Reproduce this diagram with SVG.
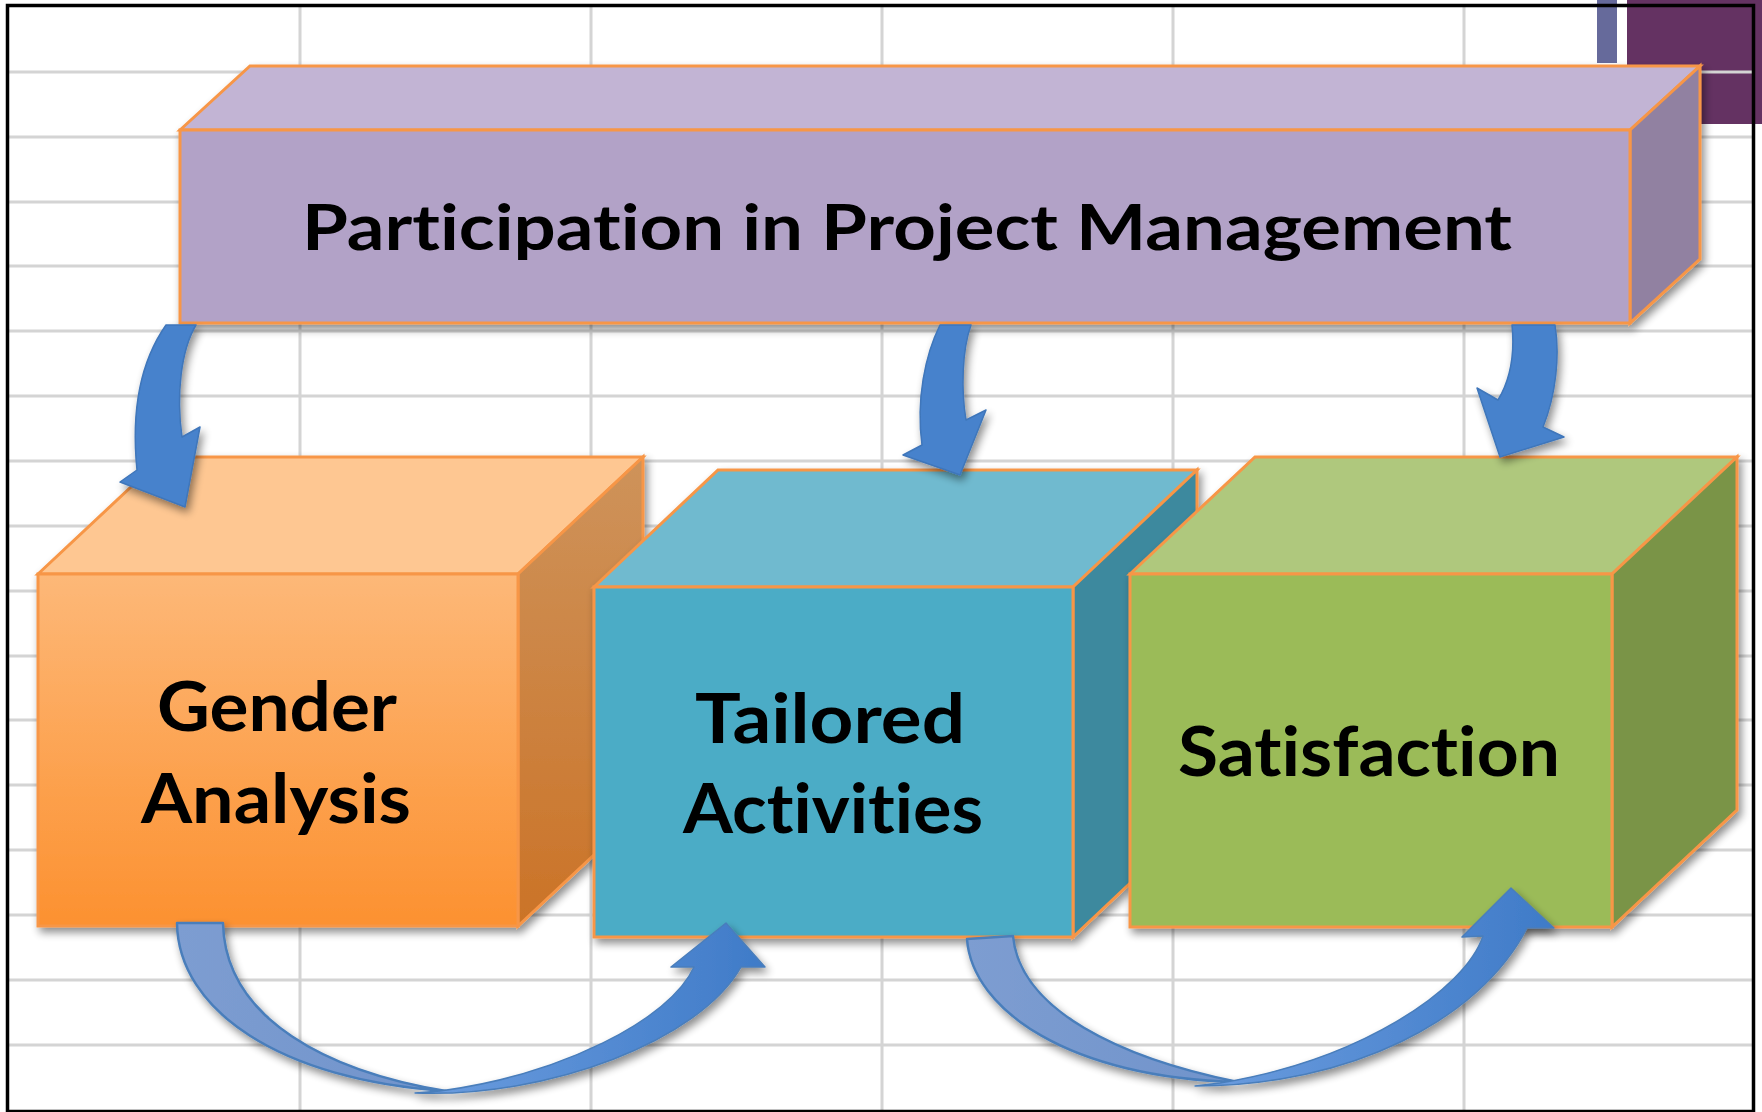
<svg xmlns="http://www.w3.org/2000/svg" width="1762" height="1112" viewBox="0 0 1762 1112">
  <style>
    .edge { stroke: #F79646; stroke-width: 3; stroke-linejoin: miter; }
    .lbl { font-family: Lato, "Open Sans", "Liberation Sans", sans-serif; font-weight: 700; fill: #000; text-anchor: middle; font-variant-ligatures: none; font-feature-settings: "liga" 0, "clig" 0; }
    .grid { stroke: #D4D4D4; stroke-width: 3; fill: none; }
    .arrow { fill: #4682CC; stroke: #3F76BA; stroke-width: 1.5; stroke-linejoin: round; }
    .band { fill: url(#bandGrad); stroke: #4A7EBB; stroke-width: 2.5; stroke-linejoin: round; }
    .body { fill: url(#bodyGrad); stroke: #4A7EBB; stroke-width: 1.5; stroke-linejoin: round; }
  </style>
  <defs>
    <filter id="shadow" x="-10%" y="-10%" width="130%" height="140%">
      <feGaussianBlur in="SourceAlpha" stdDeviation="4"/>
      <feOffset dx="3" dy="5" result="o"/>
      <feComponentTransfer><feFuncA type="linear" slope="0.45"/></feComponentTransfer>
      <feMerge><feMergeNode/><feMergeNode in="SourceGraphic"/></feMerge>
    </filter>
    <linearGradient id="orFront" x1="0" y1="0" x2="0" y2="1">
      <stop offset="0" stop-color="#FDB878"/>
      <stop offset="1" stop-color="#FC9130"/>
    </linearGradient>
    <linearGradient id="orSide" x1="0" y1="0" x2="0" y2="1">
      <stop offset="0" stop-color="#CE935B"/>
      <stop offset="1" stop-color="#CB7327"/>
    </linearGradient>
    <linearGradient id="bandGrad" x1="0" y1="0" x2="1" y2="0">
      <stop offset="0" stop-color="#7D9DD1"/>
      <stop offset="1" stop-color="#7093CB"/>
    </linearGradient>
    <linearGradient id="bodyGrad" x1="0" y1="0" x2="1" y2="0">
      <stop offset="0" stop-color="#6C9DDF"/>
      <stop offset="1" stop-color="#3F7BC8"/>
    </linearGradient>
  </defs>

  <rect x="0" y="0" width="1762" height="1112" fill="#FFFFFF"/>

  <!-- background sheet decorations -->
  <rect x="1597" y="0" width="20" height="63" fill="#666A9B"/>
  <rect x="1627" y="0" width="135" height="124" fill="#643262"/>

  <!-- grid -->
  <path class="grid" d="M9 72H1753 M9 137H1753 M9 202H1753 M9 266H1753 M9 331H1753 M9 396H1753 M9 461H1753 M9 526H1753 M9 591H1753 M9 656H1753 M9 720H1753 M9 785H1753 M9 850H1753 M9 915H1753 M9 980H1753 M9 1045H1753 M300 6V1110 M591 6V1110 M882 6V1110 M1173 6V1110 M1464 6V1110"/>

  <!-- border -->
  <rect x="7.5" y="5.5" width="1746" height="1106" fill="none" stroke="#000" stroke-width="3.5"/>

  <!-- nodes -->
  <g id="node-gender" filter="url(#shadow)">
    <polygon class="edge" fill="#FEC792" points="38,574 163,457 643,457 518,574"/>
    <polygon class="edge" fill="url(#orSide)" points="518,574 643,457 643,809 518,926"/>
    <rect class="edge" fill="url(#orFront)" x="38" y="574" width="480" height="352"/>
    <text class="lbl" x="277" y="731" font-size="68" textLength="240" lengthAdjust="spacingAndGlyphs">Gender</text>
    <text class="lbl" x="276" y="823" font-size="68" textLength="270" lengthAdjust="spacingAndGlyphs">Analysis</text>
  </g>

  <g id="node-tailored" filter="url(#shadow)">
    <polygon class="edge" fill="#6FBACF" points="594,587 718,470 1197,470 1073,587"/>
    <polygon class="edge" fill="#3C899E" points="1073,587 1197,470 1197,820 1073,937"/>
    <rect class="edge" fill="#4BACC6" x="594" y="587" width="479" height="350"/>
    <text class="lbl" x="830" y="743" font-size="68" textLength="270" lengthAdjust="spacingAndGlyphs">Tailored</text>
    <text class="lbl" x="833" y="833" font-size="68" textLength="300" lengthAdjust="spacingAndGlyphs">Activities</text>
  </g>

  <g id="node-satisfaction" filter="url(#shadow)">
    <polygon class="edge" fill="#AFC87D" points="1130,574 1255,457 1737,457 1612,574"/>
    <polygon class="edge" fill="#7A9447" points="1612,574 1737,457 1737,810 1612,927"/>
    <rect class="edge" fill="#9BBB59" x="1130" y="574" width="482" height="353"/>
    <text class="lbl" x="1369" y="776" font-size="68" textLength="382" lengthAdjust="spacingAndGlyphs">Satisfaction</text>
  </g>

  <g id="node-participation" filter="url(#shadow)">
    <polygon class="edge" fill="#C2B4D4" points="180,130 250,66 1700,66 1630,130"/>
    <polygon class="edge" fill="#9181A1" points="1630,130 1700,66 1700,259 1630,323"/>
    <rect class="edge" fill="#B2A2C7" x="180" y="130" width="1450" height="193"/>
    <text class="lbl" x="907" y="250" font-size="64" textLength="1210" lengthAdjust="spacingAndGlyphs">Participation in Project Management</text>
  </g>

  <!-- connectors -->
  <g id="connectors" filter="url(#shadow)">
    <path class="arrow" d="M166,325 C145,355 130,400 137,470 L120,482 L185,507 L200,427 L182,437 C176,395 181,350 196,325 Z"/>
    <path class="arrow" d="M940,325 C925,355 916,400 922,445 L903,455 L960,475 L986,410 L966,420 C961,390 962,350 971,325 Z"/>
    <path class="arrow" d="M1512,325 C1515,355 1510,380 1498,400 L1477,388 L1500,457 L1564,437 L1543,427 C1556,395 1560,355 1555,325 Z"/>

    <path class="band" d="M177,923 C178,1010 280,1080 446,1091 C330,1072 225,1020 223,923 Z"/>
    <path class="body" d="M415,1093 C550,1098 700,1040 741,967 L765,967 L726,923 L671,967 L694,967 C670,1020 560,1075 440,1091 Z"/>

    <path class="band" d="M967,939 C972,1010 1070,1078 1238,1082 C1120,1058 1020,1010 1013,936 Z"/>
    <path class="body" d="M1195,1086 C1350,1086 1480,1020 1527,928 L1554,928 L1511,888 L1462,937 L1483,936 C1465,990 1360,1060 1220,1083 Z"/>
  </g>
</svg>
